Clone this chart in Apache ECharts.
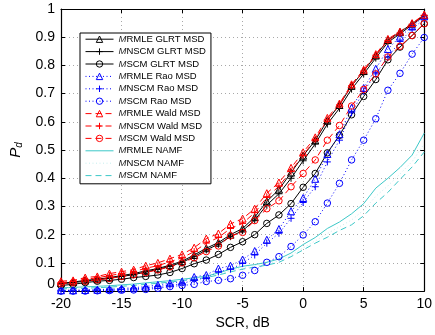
<!DOCTYPE html>
<html>
<head>
<meta charset="utf-8">
<script src="https://cdn.jsdelivr.net/npm/echarts@6/dist/echarts.min.js"></script>
<style>
  html, body { margin: 0; padding: 0; background: #fff; }
  #chart { width: 435px; height: 335px; }
</style>
</head>
<body>
<div id="chart"></div>
<script>
// SCR, dB
const scr = [-20, -19, -18, -17, -16, -15, -14, -13, -12, -11, -10, -9, -8, -7, -6, -5,
  -4, -3, -2, -1, 0, 1, 2, 3, 4, 5, 6, 7, 8, 9, 10];

const xTicks = [-20, -15, -10, -5, 0, 5, 10];
const yTicks = [0, 0.1, 0.2, 0.3, 0.4, 0.5, 0.6, 0.7, 0.8, 0.9, 1];

// GLRT MSD
const rmleGlrt = [0.028, 0.032, 0.038, 0.042, 0.048, 0.055, 0.062, 0.072, 0.08, 0.092, 0.106, 0.128, 0.152, 0.172, 0.2, 0.222,
  0.262, 0.318, 0.36, 0.42, 0.48, 0.534, 0.605, 0.66, 0.728, 0.78, 0.835, 0.89, 0.918, 0.948, 0.978];
const nscmGlrt = [0.026, 0.03, 0.035, 0.04, 0.045, 0.052, 0.058, 0.068, 0.077, 0.088, 0.102, 0.122, 0.146, 0.166, 0.193, 0.214,
  0.252, 0.305, 0.345, 0.4, 0.462, 0.522, 0.592, 0.648, 0.716, 0.77, 0.826, 0.882, 0.912, 0.944, 0.976];
const scmGlrt = [0.02, 0.024, 0.03, 0.035, 0.038, 0.042, 0.048, 0.052, 0.057, 0.066, 0.08, 0.097, 0.11, 0.13, 0.155, 0.175,
  0.2, 0.24, 0.27, 0.31, 0.368, 0.417, 0.49, 0.552, 0.625, 0.69, 0.75, 0.82, 0.865, 0.906, 0.948];

// Rao MSD
const rmleRao = [0.003, 0.003, 0.004, 0.005, 0.007, 0.009, 0.012, 0.016, 0.022, 0.028, 0.034, 0.05, 0.057, 0.08, 0.09, 0.112,
  0.142, 0.182, 0.22, 0.283, 0.33, 0.398, 0.486, 0.556, 0.65, 0.72, 0.788, 0.858, 0.902, 0.938, 0.974];
const nscmRao = [0.001, 0.001, 0.002, 0.003, 0.004, 0.006, 0.008, 0.011, 0.016, 0.021, 0.026, 0.04, 0.047, 0.068, 0.078, 0.098,
  0.128, 0.17, 0.205, 0.258, 0.314, 0.37, 0.458, 0.535, 0.632, 0.708, 0.77, 0.83, 0.885, 0.928, 0.965];
const scmRao = [0, 0, 0, 0.001, 0.002, 0.003, 0.004, 0.006, 0.01, 0.016, 0.02, 0.024, 0.034, 0.038, 0.044, 0.056,
  0.073, 0.102, 0.122, 0.158, 0.199, 0.246, 0.312, 0.382, 0.465, 0.535, 0.611, 0.712, 0.772, 0.84, 0.899];

// Wald MSD
const rmleWald = [0.035, 0.038, 0.048, 0.052, 0.062, 0.069, 0.076, 0.09, 0.1, 0.115, 0.13, 0.154, 0.186, 0.204, 0.238, 0.257,
  0.292, 0.347, 0.385, 0.437, 0.492, 0.545, 0.614, 0.665, 0.733, 0.785, 0.84, 0.894, 0.92, 0.95, 0.98];
const nscmWald = [0.03, 0.034, 0.042, 0.047, 0.055, 0.062, 0.069, 0.081, 0.09, 0.104, 0.118, 0.14, 0.17, 0.19, 0.222, 0.24,
  0.278, 0.332, 0.372, 0.425, 0.482, 0.538, 0.607, 0.66, 0.728, 0.78, 0.836, 0.888, 0.915, 0.946, 0.978];
const scmWald = [0.026, 0.03, 0.035, 0.04, 0.045, 0.052, 0.058, 0.066, 0.075, 0.086, 0.1, 0.118, 0.14, 0.16, 0.196, 0.208,
  0.25, 0.292, 0.32, 0.37, 0.417, 0.465, 0.535, 0.587, 0.656, 0.715, 0.77, 0.83, 0.868, 0.906, 0.948];

// NAMF
const rmleNamf = [0.012, 0.013, 0.015, 0.017, 0.019, 0.022, 0.025, 0.029, 0.033, 0.037, 0.042, 0.047, 0.053, 0.064, 0.078, 0.088,
  0.094, 0.102, 0.114, 0.135, 0.165, 0.19, 0.222, 0.245, 0.274, 0.31, 0.365, 0.4, 0.438, 0.482, 0.56];
const nscmNamf = [0.01, 0.011, 0.012, 0.014, 0.016, 0.019, 0.022, 0.026, 0.03, 0.034, 0.039, 0.044, 0.05, 0.06, 0.072, 0.082,
  0.089, 0.096, 0.107, 0.127, 0.153, 0.178, 0.204, 0.228, 0.252, 0.287, 0.336, 0.373, 0.415, 0.459, 0.522];
const scmNamf = [0.008, 0.009, 0.01, 0.012, 0.014, 0.017, 0.02, 0.024, 0.028, 0.032, 0.037, 0.042, 0.048, 0.057, 0.068, 0.078,
  0.085, 0.092, 0.102, 0.122, 0.146, 0.17, 0.191, 0.215, 0.235, 0.267, 0.312, 0.35, 0.396, 0.44, 0.493];

const FONT = "'Liberation Sans', Arial, sans-serif";
const PLUS = "path://M5,0L5,10M0,5L10,5";
const DOT = [1, 2.5];
const DASH = [6, 4];

// name, values, colour, line type, marker
const curves = [
  ["MRMLE GLRT MSD", rmleGlrt, "#000", "solid", "triangle"],
  ["MNSCM GLRT MSD", nscmGlrt, "#000", "solid", PLUS],
  ["MSCM GLRT MSD", scmGlrt, "#000", "solid", "circle"],
  ["MRMLE Rao MSD", rmleRao, "#0000ff", DOT, "triangle"],
  ["MNSCM Rao MSD", nscmRao, "#0000ff", DOT, PLUS],
  ["MSCM Rao MSD", scmRao, "#0000ff", DOT, "circle"],
  ["MRMLE Wald MSD", rmleWald, "#ff0000", DASH, "triangle"],
  ["MNSCM Wald MSD", nscmWald, "#ff0000", DASH, PLUS],
  ["MSCM Wald MSD", scmWald, "#ff0000", DASH, "circle"],
  ["MRMLE NAMF", rmleNamf, "#3cc8c8", "solid", "none"],
  ["MNSCM NAMF", nscmNamf, "#c4eeee", DOT, "none"],
  ["MSCM NAMF", scmNamf, "#3cc8c8", DASH, "none"],
];

const series = curves.map(([name, vals, color, type, marker]) => ({
  name,
  type: "line",
  data: scr.map((x, i) => [x, vals[i]]),
  symbol: marker,
  symbolSize: marker === "circle" ? 6.5 : 7,
  showSymbol: marker !== "none",
  lineStyle: { color, width: 1, type },
  itemStyle: {
    color: "rgba(0,0,0,0)",
    borderColor: marker === "none" ? "rgba(0,0,0,0)" : color,
    borderWidth: 1,
  },
  emphasis: { disabled: true },
  clip: false,
}));

const gridLine = { show: true, lineStyle: { color: "#a8a8a8", type: [1, 3], width: 1 } };
const boxLine = { show: true, onZero: false, lineStyle: { color: "#000", width: 1.2 } };

const chart = echarts.init(document.getElementById("chart"), null, { renderer: "canvas" });
chart.setOption({
  animation: false,
  backgroundColor: "#fff",
  textStyle: { fontFamily: FONT },
  grid: { left: 61, right: 8, top: 9, bottom: 38 },
  legend: {
    left: 80,
    top: 33,
    orient: "vertical",
    selectedMode: false,
    backgroundColor: "#fff",
    borderColor: "#000",
    borderWidth: 1,
    padding: [0, 5, 2, 5],
    itemWidth: 28,
    itemHeight: 8,
    itemGap: 0,
    itemStyle: { borderWidth: 1 },
    lineStyle: { width: 1 },
    textStyle: {
      fontFamily: FONT, fontSize: 9.5, color: "#000", lineHeight: 12.4,
      rich: {
        i: { fontFamily: FONT, fontSize: 9.5, fontStyle: "italic", color: "#222", lineHeight: 12.4 },
        t: { fontFamily: FONT, fontSize: 9.5, color: "#000", lineHeight: 12.4 },
      },
    },
    formatter: (n) => "{i|M}{t|" + n.slice(1) + "}",
    data: curves.map((c) => c[0]),
  },
  xAxis: [
    {
      type: "value", min: -20, max: 10, interval: 5,
      name: "SCR, dB", nameLocation: "middle", nameGap: 22,
      nameTextStyle: { fontFamily: FONT, fontSize: 14, color: "#000" },
      axisLine: boxLine,
      axisTick: { inside: true, length: 4, lineStyle: { color: "#000" } },
      axisLabel: { fontFamily: FONT, fontSize: 14, color: "#000", margin: 6, customValues: xTicks },
      splitLine: gridLine,
    },
    {
      type: "value", min: -20, max: 10, interval: 5, position: "top",
      axisLine: boxLine,
      axisTick: { inside: true, length: 4, lineStyle: { color: "#000" } },
      axisLabel: { show: false },
      splitLine: { show: false },
    },
  ],
  yAxis: [
    {
      type: "value", min: 0, max: 1, interval: 0.1,
      name: "{p|P}{d|d}", nameLocation: "middle", nameGap: 32,
      nameTextStyle: {
        rich: {
          p: { fontFamily: FONT, fontSize: 15, fontStyle: "italic", color: "#000", lineHeight: 18 },
          d: { fontFamily: FONT, fontSize: 10, fontStyle: "italic", color: "#000", verticalAlign: "bottom", lineHeight: 14 },
        },
      },
      axisLine: boxLine,
      axisTick: { inside: true, length: 4, lineStyle: { color: "#000" } },
      axisLabel: {
        fontFamily: FONT, fontSize: 14, color: "#000", margin: 6,
        customValues: yTicks,
        formatter: (v) => (v === 0 ? "{z|0}" : String(Math.round(v * 10) / 10)),
        rich: { z: { fontFamily: FONT, fontSize: 14, color: "#000", padding: [0, 0, 14, 0] } },
      },
      splitLine: gridLine,
    },
    {
      type: "value", min: 0, max: 1, interval: 0.1, position: "right",
      axisLine: boxLine,
      axisTick: { inside: true, length: 4, lineStyle: { color: "#000" } },
      axisLabel: { show: false },
      splitLine: { show: false },
    },
  ],
  series,
});
</script>
</body>
</html>
